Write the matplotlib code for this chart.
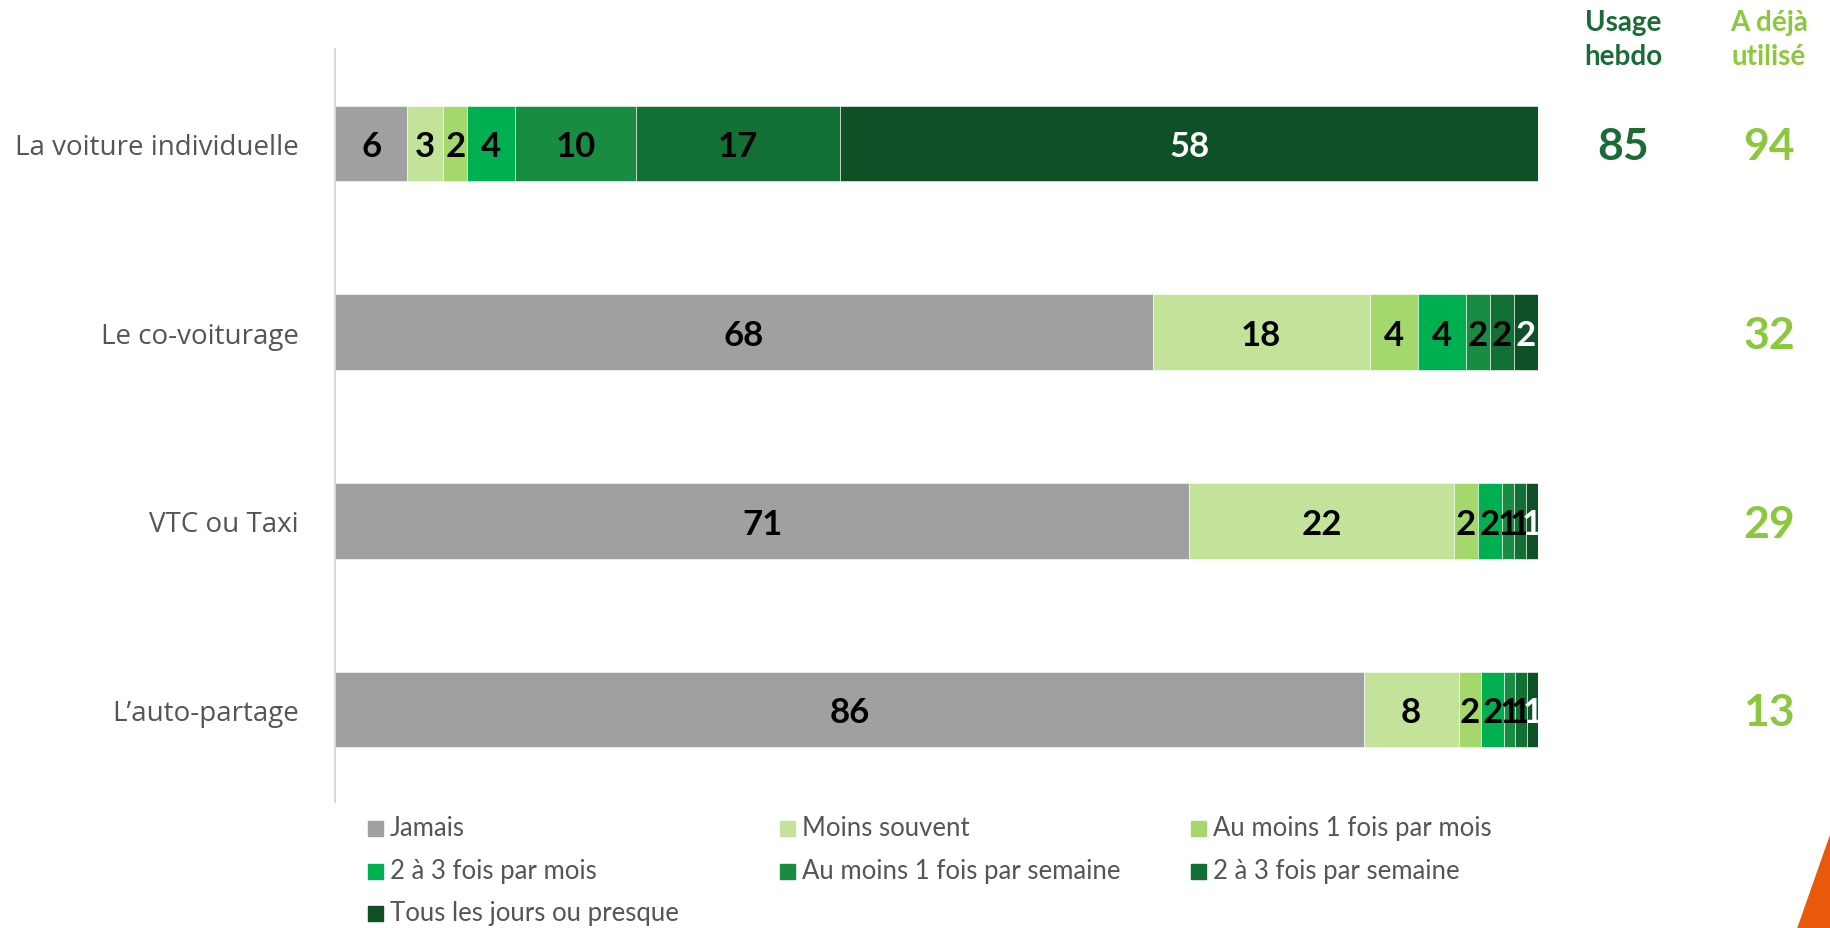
import matplotlib.pyplot as plt
from matplotlib.patches import Rectangle, Polygon
from matplotlib.transforms import blended_transform_factory
import numpy as np

# donnees (en %, les etiquettes sont arrondies)
modes = ["La voiture individuelle", "Le co-voiturage", "VTC ou Taxi", "L\u2019auto-partage"]
frequences = ["Jamais", "Moins souvent", "Au moins 1 fois par mois", "2 à 3 fois par mois",
              "Au moins 1 fois par semaine", "2 à 3 fois par semaine", "Tous les jours ou presque"]
jamais = [6, 68, 71, 85.5]
moins_souvent = [3, 18, 22, 7.9]
un_par_mois = [2, 4, 2, 1.9]
deux_trois_mois = [4, 4, 2, 1.9]
un_par_semaine = [10, 2, 1, 0.9]
deux_trois_semaine = [17, 2, 1, 1.0]
tous_les_jours = [58, 2, 1, 0.9]
usage_hebdo = ["85", "", "", ""]
deja_utilise = ["94", "32", "29", "13"]

couleurs = ["#a0a0a2", "#c4e39a", "#a5d86c", "#00b050", "#178c42", "#137034", "#0e5126"]
couleurs_texte = ["black"] * 6 + ["white"]
series = [jamais, moins_souvent, un_par_mois, deux_trois_mois,
          un_par_semaine, deux_trois_semaine, tous_les_jours]

W, H = 1831, 929
fig = plt.figure(figsize=(W / 100, H / 100), dpi=100)
ax = fig.add_axes([335 / W, 1 - 803 / H, (1538 - 335) / W, (803 - 50) / H])

y = np.arange(len(modes))
gauche = np.zeros(len(modes))
for valeurs, coul, ctxt in zip(series, couleurs, couleurs_texte):
    valeurs = np.array(valeurs, dtype=float)
    ax.barh(y, valeurs, left=gauche, height=0.40, color=coul, edgecolor="white", linewidth=0.4)
    for yi, g, v in zip(y, gauche, valeurs):
        ax.text(g + v / 2, yi + 0.015, f"{int(v + 0.5)}", ha="center", va="center", color=ctxt,
                fontsize=25, fontweight="bold", family="Lato")
    gauche += valeurs

ax.set_xlim(0, 100)
ax.set_ylim(3.49, -0.50)
ax.set_yticks(y)
ax.set_yticklabels(modes, fontsize=20, color="#555555", family="Open Sans")
ax.tick_params(axis="y", length=0, pad=26)
ax.set_xticks([])
for s in ["top", "right", "bottom"]:
    ax.spines[s].set_visible(False)
ax.spines["left"].set_color("#d9d9d9")
ax.spines["left"].set_linewidth(1.5)

# colonnes de droite
trans = blended_transform_factory(fig.transFigure, ax.transData)
vert_fonce = "#1a6b35"
vert_clair = "#8dc63f"
for yi, u, d in zip(y, usage_hebdo, deja_utilise):
    ax.text(1623 / W, yi + 0.015, u, transform=trans, ha="center", va="center",
            fontsize=32, fontweight="bold", color=vert_fonce, family="Lato")
    ax.text(1769 / W, yi + 0.015, d, transform=trans, ha="center", va="center",
            fontsize=32, fontweight="bold", color=vert_clair, family="Lato")
fig.text(1623 / W, 1 - 40 / H, "Usage\nhebdo", ha="center", va="center", fontsize=20,
         fontweight="bold", color=vert_fonce, family="Lato", linespacing=1.4)
fig.text(1769 / W, 1 - 40 / H, "A déjà\nutilisé", ha="center", va="center", fontsize=20,
         fontweight="bold", color=vert_clair, family="Lato", linespacing=1.4)

# legende
colonnes_x = [368, 780, 1191]
lignes_y = [829, 872, 914]
for i, (nom, coul) in enumerate(zip(frequences, couleurs)):
    cx = colonnes_x[i % 3]
    cy = lignes_y[i // 3]
    fig.add_artist(Rectangle((cx / W, 1 - (cy + 8) / H), 15 / W, 15 / H,
                             transform=fig.transFigure, color=coul))
    fig.text((cx + 22) / W, 1 - cy / H, nom, ha="left", va="center", fontsize=18.5,
             color="#555555", family="Lato")

# decoration orange
fig.add_artist(Polygon([(1, 1 - 835 / H), (1798 / W, 0), (1, 0)],
                       closed=True, transform=fig.transFigure, color="#e8590c"))

plt.savefig("out.png", dpi=100)
